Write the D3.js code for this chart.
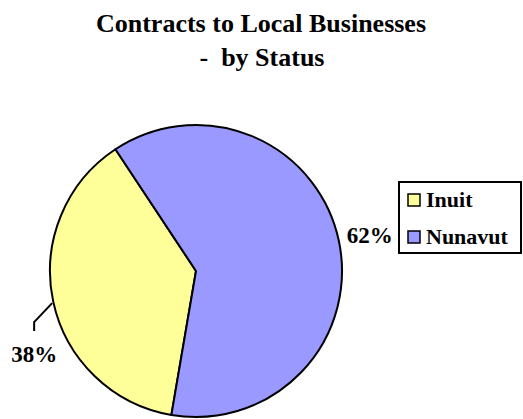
<!DOCTYPE html>
<html><head><meta charset="utf-8">
<script src="https://cdn.jsdelivr.net/npm/d3@7"></script>
<style>
html,body{margin:0;padding:0;background:#fff;}
svg{display:block;}
</style></head>
<body>
<svg id="chart" width="523" height="419"></svg>
<script>
const titleLines = ["Contracts to Local Businesses", "-  by Status"];
const categories = ["Inuit", "Nunavut"];
const values = [38, 62];
const percentLabels = ["38%", "62%"];
const colors = ["#FFFF99", "#9999FF"];

const FONT = "Liberation Serif, DejaVu Serif, serif";
const svg = d3.select("#chart");
const cx = 196, cy = 271, R = 146;

function txt(sel, size) {
  return sel.attr("font-family", FONT).attr("font-weight", "bold")
    .attr("font-size", size).attr("fill", "#000");
}

// Title
txt(svg.append("text"), 26).attr("x", 261).attr("y", 32).attr("text-anchor", "middle")
  .text(titleLines[0]);
txt(svg.append("text"), 26).attr("x", 262).attr("y", 66).attr("text-anchor", "middle")
  .attr("xml:space", "preserve").text(titleLines[1]);

// Pie
const data = categories.map((c, i) => ({cat: c, value: values[i], label: percentLabels[i], color: colors[i]}));
const start = -33.5 * Math.PI / 180;
const pie = d3.pie().value(d => d.value)
  .sort((a, b) => d3.descending(a.value, b.value))
  .startAngle(start).endAngle(start + 2 * Math.PI);
const arcs = pie(data);
const arc = d3.arc().innerRadius(0).outerRadius(R);

const g = svg.append("g").attr("transform", `translate(${cx},${cy})`);
g.selectAll("path").data(arcs).enter().append("path")
  .attr("d", arc).attr("fill", d => d.data.color)
  .attr("stroke", "#000").attr("stroke-width", 2).attr("stroke-linejoin", "round");

// Labels
arcs.forEach(a => {
  const mid = (a.startAngle + a.endAngle) / 2;
  const px = Math.sin(mid) * R, py = -Math.cos(mid) * R;
  if (a.data.cat === "Nunavut") {
    txt(g.append("text"), 23).attr("x", px + 8).attr("y", py + 2)
      .attr("text-anchor", "start").text(a.data.label);
  } else {
    const p1 = [px - 1, py + 2];
    const p2 = [px - 19, py + 21];
    const p3 = [px - 19, py + 30];
    g.append("path").attr("d", d3.line()([p1, p2, p3]))
      .attr("fill", "none").attr("stroke", "#000").attr("stroke-width", 2);
    txt(g.append("text"), 23).attr("x", p3[0]).attr("y", py + 61)
      .attr("text-anchor", "middle").text(a.data.label);
  }
});

// Legend
const lg = svg.append("g");
lg.append("rect").attr("x", 399).attr("y", 182).attr("width", 122).attr("height", 71)
  .attr("fill", "#fff").attr("stroke", "#000").attr("stroke-width", 2);
categories.forEach((c, i) => {
  const y = 194 + i * 37;
  lg.append("rect").attr("x", 408).attr("y", y).attr("width", 12).attr("height", 12)
    .attr("fill", colors[i]).attr("stroke", "#000").attr("stroke-width", 1.5);
  txt(lg.append("text"), 22).attr("x", 426).attr("y", y + 13).text(c);
});
</script>
</body></html>
